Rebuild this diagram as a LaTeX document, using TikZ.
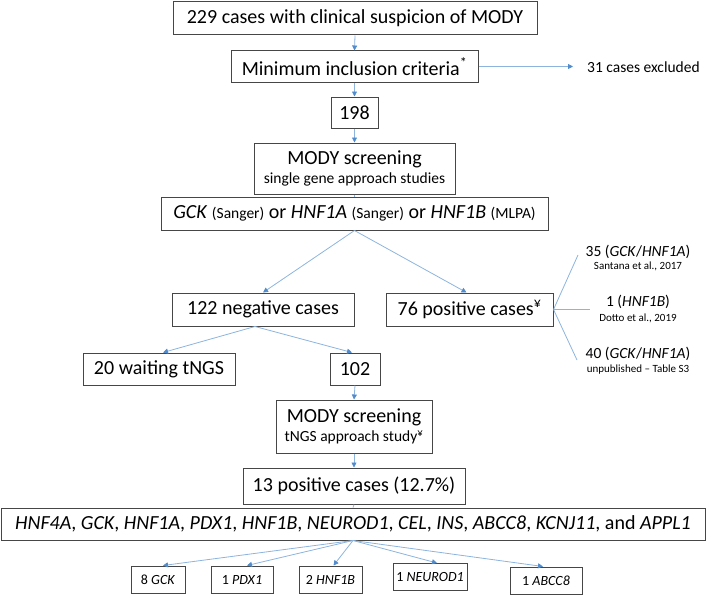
\documentclass[tikz,border=0pt]{standalone}
\usepackage{fontspec}
\setmainfont{Carlito}
\usetikzlibrary{arrows.meta,calc}
\definecolor{lineblue}{RGB}{140,180,222}
\definecolor{tipblue}{RGB}{80,140,205}
\definecolor{boxgray}{RGB}{70,70,70}
\newcommand{\fbig}{\fontsize{20}{24}\selectfont}
\newcommand{\fmid}{\fontsize{15.5}{18}\selectfont}
\newcommand{\fgen}{\fontsize{14}{17}\selectfont}
\newcommand{\fsml}{\fontsize{11}{13}\selectfont}
\tikzset{
  box/.style={draw=boxgray, line width=1pt, inner sep=0pt, align=center, font=\fbig},
  genebox/.style={box, font=\fgen, minimum height=27},
  conn/.style={draw=lineblue, line width=0.8pt},
  arr/.style={conn, -{Triangle[length=5pt,width=5pt,fill=tipblue,color=tipblue]}},
  plain/.style={inner sep=0pt, align=center},
}
\begin{document}
\begin{tikzpicture}[x=1pt,y=-1pt]
\useasboundingbox (0,0) rectangle (709,594);
\node[box,minimum width=364,minimum height=33] (b1) at (355,18.5) {229 cases with clinical suspicion of MODY};
\node[box,minimum width=247,minimum height=31] (b2) at (354.5,66.5) {Minimum inclusion criteria\textsuperscript{*}};
\node[plain,font=\fmid,anchor=west] (ex) at (587,67) {31 cases excluded};
\node[box,minimum width=47,minimum height=31] (b3) at (354.5,112.5) {198};
\node[box,minimum width=201,minimum height=51,font=\fmid] (b4) at (354.5,168.5) {{\fbig MODY screening}\\[1pt]single gene approach studies};
\node[box,minimum width=387,minimum height=33] (b5) at (354.5,213.5) {\textit{GCK} {\fmid (Sanger)} or \textit{HNF1A} {\fmid (Sanger)} or \textit{HNF1B} {\fmid (MLPA)}};
\node[box,minimum width=182,minimum height=33] (b6) at (263,309.5) {122 negative cases};
\node[box,minimum width=167,minimum height=33] (b7) at (469.5,309.5) {76 positive cases\textsuperscript{¥}};
\node[plain,font=\fmid] (r1) at (638,252) {35 (\textit{GCK}/\textit{HNF1A})};
\node[plain,font=\fsml] (r1c) at (638,266) {Santana et al., 2017};
\node[plain,font=\fmid] (r2) at (638,302) {1 (\textit{HNF1B})};
\node[plain,font=\fsml] (r2c) at (638,318) {Dotto et al., 2019};
\node[plain,font=\fmid] (r3) at (638,354) {40 (\textit{GCK}/\textit{HNF1A})};
\node[plain,font=\fsml] (r3c) at (638,370) {unpublished – Table S3};
\coordinate (e1) at (578,255);
\coordinate (e2) at (590,309.5);
\coordinate (e3) at (577,360);
\node[box,minimum width=152,minimum height=32] (b8) at (159,369) {20 waiting tNGS};
\node[box,minimum width=50,minimum height=32] (b9) at (355,369) {102};
\node[box,minimum width=156,minimum height=53,font=\fmid] (b10) at (354,426.5) {{\fbig MODY screening}\\[1pt]tNGS approach study\textsuperscript{¥}};
\node[box,minimum width=222,minimum height=36] (b11) at (354,486) {13 positive cases (12.7\%)};
\node[box,minimum width=704,minimum height=32] (b12) at (353,524) {\textit{HNF4A}, \textit{GCK}, \textit{HNF1A}, \textit{PDX1}, \textit{HNF1B}, \textit{NEUROD1}, \textit{CEL}, \textit{INS}, \textit{ABCC8}, \textit{KCNJ11}, and \textit{APPL1}};
\node[genebox,minimum width=54] (g1) at (158,579.5) {8 \textit{GCK}};
\node[genebox,minimum width=62] (g2) at (242,579.5) {1 \textit{PDX1}};
\node[genebox,minimum width=63] (g3) at (330.5,579.5) {2 \textit{HNF1B}};
\node[genebox,minimum width=74] (g4) at (430,577) {1 \textit{NEUROD1}};
\node[genebox,minimum width=72] (g5) at (546,580.5) {1 \textit{ABCC8}};
% connectors
\draw[arr] (b1.south) -- (b2.north);
\draw[arr, shorten >=14pt] (b2.east) -- (b2.east -| ex.west);
\draw[arr] (b2.south) -- (b3.north);
\draw[arr] (b3.south) -- (b4.north);
\draw[conn] (b4.south) -- (b5.north);
\draw[arr] (b5.south) -- (b6.north);
\draw[arr] (b5.south) -- ($(b7.north)+(-3,0)$);
\draw[conn] (b7.east) -- (e1);
\draw[conn] (b7.east) -- (e2);
\draw[conn] (b7.east) -- (e3);
\draw[arr] ($(b6.south)+(-8,0)$) -- ($(b8.north)+(4,0)$);
\draw[arr] ($(b6.south)+(-8,0)$) -- ($(b9.north)+(-3,0)$);
\draw[arr] (b9.south) -- (b10.north);
\draw[arr] (b10.south) -- (b11.north);
\draw[conn] (b11.south) -- (b12.north);
\draw[arr] (b12.south) -- ($(g1.north)+(5,0)$);
\draw[arr] (b12.south) -- ($(g2.north)+(5,0)$);
\draw[arr] (b12.south) -- ($(g3.north)+(3,0)$);
\draw[arr] (b12.south) -- ($(g4.north)+(7,0)$);
\draw[arr] (b12.south) -- ($(g5.north)+(-3,0)$);
\end{tikzpicture}
\end{document}
